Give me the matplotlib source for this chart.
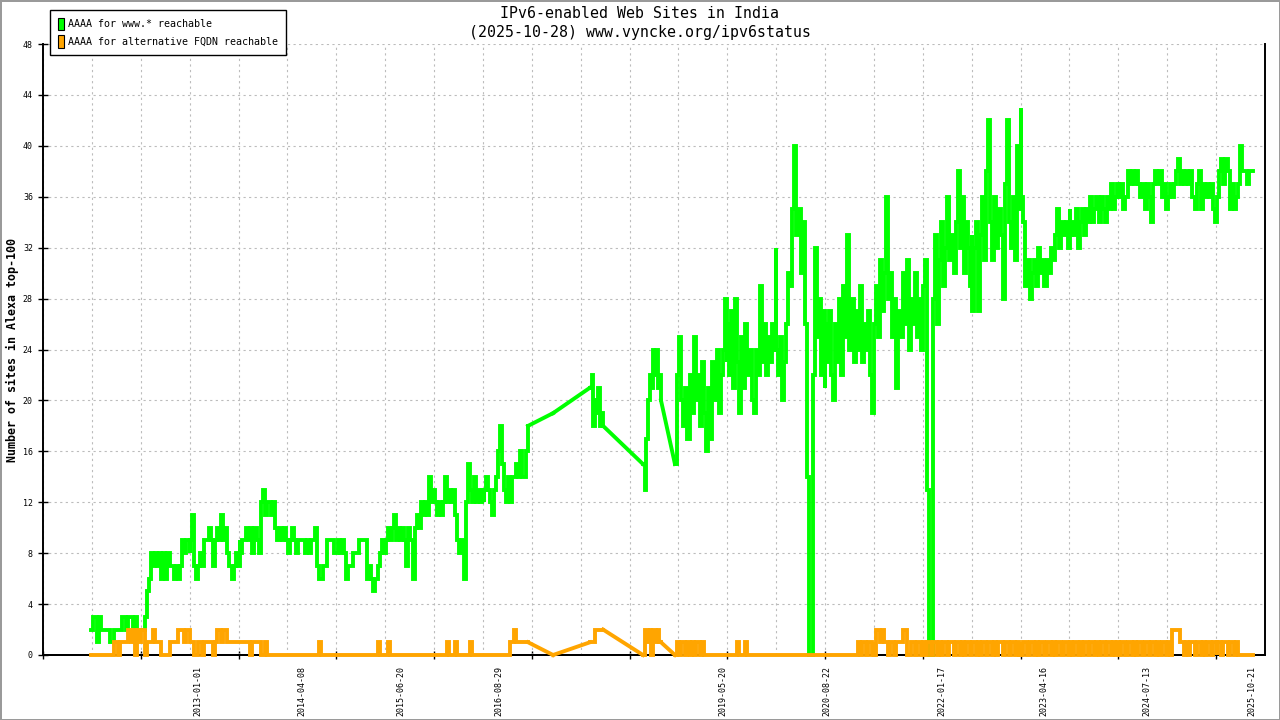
import matplotlib
matplotlib.use('Agg')
import matplotlib.pyplot as plt
import matplotlib.dates as mdates
from matplotlib.patches import Patch
from matplotlib.ticker import FixedLocator, NullFormatter
import numpy as np
import pandas as pd

# --------------------------------------------------------------------------------------------------
# data
# --------------------------------------------------------------------------------------------------

# dense measuring periods, cut into chunks; values in a chunk are evenly spread between its edges
seg_a_edges = ['2011-09-14', '2012-04-23', '2012-11-26', '2013-07-06', '2014-02-13',
               '2014-09-14', '2015-04-15', '2015-11-19', '2016-06-23', '2017-01-05']
seg_mid_edges = ['2017-04-26', '2017-04-26']
seg_b_edges = ['2017-10-07', '2017-12-04']
seg_c_edges = ['2018-05-30', '2018-08-18']
seg_d_edges = ['2018-10-19', '2019-06-07', '2020-01-11', '2020-08-15', '2021-03-20',
               '2021-10-24', '2022-05-29', '2023-01-02', '2023-08-07', '2024-03-12',
               '2024-10-15', '2025-05-21', '2025-10-28']

# AAAA for www.* reachable
www_a1 = [2, 3, 3, 1, 3, 2, 2, 2, 2, 1, 1, 2, 2, 2, 2, 3, 3, 2, 3, 3, 2, 3, 2, 2, 2]
www_a2 = [2, 2, 3, 5, 6, 8, 7, 8, 7, 8, 6, 8, 6, 8, 7, 7, 6, 7, 6, 7, 9, 8, 9, 9, 8]
www_a3 = [9, 11, 7, 6, 7, 8, 7, 9, 9, 10, 9, 7, 9, 10, 9, 11, 9, 10, 8, 7, 6, 7, 8, 7, 9]
www_a4 = [8, 9, 9, 10, 9, 10, 8, 10, 9, 8, 12, 13, 11, 12, 12, 11, 12, 10, 9, 10, 9, 10, 9, 8, 9]
www_a5 = [9, 10, 9, 8, 9, 9, 9, 8, 9, 8, 9, 9, 10, 7, 6, 6, 7, 7, 9, 9, 9, 8, 8, 9]
www_a6 = [9, 8, 9, 8, 6, 7, 7, 8, 8, 8, 9, 9, 9, 9, 6, 7, 6, 5, 6, 7, 8, 9, 8, 9]
www_a7 = [9, 10, 9, 10, 11, 9, 10, 9, 10, 9, 7, 10, 9, 6, 10, 11, 10, 12, 11, 12, 11, 14, 12, 13, 12]
www_a8 = [12, 11, 12, 11, 12, 14, 12, 13, 12, 13, 11, 9, 8, 9, 6, 12, 15, 13, 12, 14, 12, 13, 12, 13, 12]
www_a9 = [13, 14, 13, 12, 11, 13, 14, 16, 18, 15, 13, 12, 14, 12, 14, 14, 15, 14, 16, 14, 14, 16, 18]
www_mid = [19]
www_b = [21, 22, 18, 20, 19, 21, 18, 19, 18]
www_c = [15, 13, 17, 20, 22, 21, 24, 22, 24, 21, 22, 20]
www_d1 = [15, 22, 25, 20, 18, 21, 17, 22, 19, 25, 20, 22, 18, 23, 19, 16, 21, 17, 23, 20, 24, 19, 22, 24, 28, 23]
www_d2 = [26, 22, 27, 21, 28, 23, 19, 25, 21, 26, 22, 24, 20, 19, 24, 22, 29, 23, 26, 22, 25, 23, 26, 24, 32]
www_d3 = [24, 22, 25, 20, 23, 26, 30, 29, 35, 40, 33, 35, 30, 34, 26, 14, 0, 0, 22, 32, 25, 28, 22, 27, 21]
www_d4 = [26, 23, 27, 22, 20, 26, 23, 28, 22, 29, 25, 33, 24, 28, 23, 27, 24, 29, 23, 26, 24, 27, 22, 19, 25]
www_d5 = [26, 29, 25, 31, 27, 30, 36, 28, 30, 25, 28, 21, 27, 25, 30, 26, 31, 24, 28, 26, 30, 25, 28, 24, 29]
www_d6 = [29, 31, 13, 0, 0, 28, 33, 26, 31, 34, 29, 32, 36, 31, 33, 30, 34, 38, 32, 36, 30, 34, 32, 29, 33]
www_d7 = [27, 32, 34, 27, 33, 36, 31, 38, 42, 34, 31, 36, 32, 35, 33, 28, 37, 42, 34, 32, 36, 31, 40, 35, 43]
www_d8 = [36, 34, 29, 31, 28, 30, 31, 29, 32, 30, 31, 29, 31, 30, 32, 31, 33, 35, 32, 34, 33, 34, 32, 35]
www_d9 = [33, 34, 33, 35, 32, 34, 35, 33, 35, 34, 36, 34, 35, 36, 34, 36, 35, 34, 36, 35, 37, 35, 36, 37, 36]
www_d10 = [36, 37, 35, 36, 38, 37, 38, 37, 38, 37, 36, 37, 35, 37, 36, 34, 37, 38, 37, 38, 36, 37, 35, 36]
www_d11 = [36, 37, 36, 37, 38, 39, 37, 38, 37, 38, 37, 38, 36, 35, 37, 38, 35, 37, 36, 37, 36, 37, 35, 34, 35]
www_d12 = [36, 38, 39, 37, 39, 38, 35, 37, 35, 36, 37, 40, 38, 38, 37, 38, 38, 38]

# AAAA for alternative FQDN reachable
alt_a1 = [0, 0, 0, 0, 0, 0, 0, 0, 0, 0, 0, 1, 1, 0, 1, 1, 1, 1, 2, 1, 2, 0, 2, 1, 2]
alt_a2 = [2, 2, 0, 1, 1, 1, 2, 1, 1, 1, 0, 0, 0, 0, 1, 1, 1, 1, 2, 2, 2, 1, 2, 2, 2]
alt_a3 = [1, 1, 0, 0, 1, 1, 0, 1, 1, 1, 1, 0, 1, 2, 2, 1, 2, 2, 1, 1, 1, 1, 1, 1, 1]
alt_a4 = [1, 1, 1, 1, 1, 0, 1, 1, 1, 1, 0, 0, 1, 0, 0, 0, 0, 0, 0, 0, 0, 0, 0, 0, 0]
alt_a5 = [0, 0, 0, 0, 0, 0, 0, 0, 0, 0, 0, 0, 0, 0, 1, 0, 0, 0, 0, 0, 0, 0, 0, 0]
alt_a6 = [0, 0, 0, 0, 0, 0, 0, 0, 0, 0, 0, 0, 0, 0, 0, 0, 0, 0, 0, 1, 0, 0, 0, 0]
alt_a7 = [0, 1, 0, 0, 0, 0, 0, 0, 0, 0, 0, 0, 0, 0, 0, 0, 0, 0, 0, 0, 0, 0, 0, 0, 0]
alt_a8 = [0, 0, 0, 0, 0, 0, 1, 0, 0, 0, 1, 0, 0, 0, 0, 0, 0, 1, 0, 0, 0, 0, 0, 0, 0]
alt_a9 = [0, 0, 0, 0, 0, 0, 0, 0, 0, 0, 0, 0, 0, 1, 1, 2, 1, 1, 1, 1, 1, 1, 1]
alt_mid = [0]
alt_b = [1, 1, 1, 2, 2, 2, 2, 2, 2]
alt_c = [0, 2, 2, 1, 2, 0, 2, 2, 1, 2, 1, 1]
alt_d1 = [0, 1, 0, 1, 1, 0, 1, 0, 1, 0, 1, 1, 0, 1, 0, 0, 0, 0, 0, 0, 0, 0, 0, 0, 0, 0]
alt_d2 = [0, 0, 0, 0, 0, 1, 0, 0, 0, 1, 0, 0, 0, 0, 0, 0, 0, 0, 0, 0, 0, 0, 0, 0, 0]
alt_d3 = [0, 0, 0, 0, 0, 0, 0, 0, 0, 0, 0, 0, 0, 0, 0, 0, 0, 0, 0, 0, 0, 0, 0, 0, 0]
alt_d4 = [0, 0, 0, 0, 0, 0, 0, 0, 0, 0, 0, 0, 0, 0, 0, 0, 1, 0, 1, 1, 0, 1, 1, 0, 1]
alt_d5 = [0, 2, 2, 1, 2, 1, 1, 0, 1, 1, 0, 1, 1, 1, 2, 2, 0, 0, 1, 1, 0, 1, 1, 0, 1]
alt_d6 = [1, 0, 1, 1, 0, 1, 1, 0, 1, 0, 1, 1, 0, 1, 1, 0, 1, 1, 0, 1, 0, 1, 1, 0, 1]
alt_d7 = [1, 1, 0, 1, 0, 1, 1, 0, 1, 1, 0, 1, 0, 1, 1, 0, 1, 1, 0, 1, 1, 0, 1, 0, 1]
alt_d8 = [0, 1, 1, 0, 1, 1, 0, 1, 0, 1, 1, 0, 1, 1, 0, 1, 0, 1, 1, 0, 1, 1, 0, 1]
alt_d9 = [1, 0, 1, 1, 0, 1, 0, 1, 1, 0, 1, 1, 0, 1, 0, 1, 1, 0, 1, 1, 0, 1, 0, 1, 1]
alt_d10 = [0, 1, 1, 0, 1, 1, 0, 1, 0, 1, 1, 0, 1, 1, 0, 1, 1, 0, 1, 0, 1, 1, 0, 1]
alt_d11 = [1, 0, 2, 2, 2, 2, 1, 1, 0, 1, 0, 1, 1, 0, 1, 1, 0, 1, 0, 1, 1, 0, 1, 1, 0]
alt_d12 = [1, 1, 0, 1, 1, 0, 1, 1, 0, 1, 0, 0, 0, 0, 0, 0, 0, 0]

xtick_dates = ['2013-01-01', '2014-04-08', '2015-06-20', '2016-08-29', '2019-05-20',
               '2020-08-22', '2022-01-17', '2023-04-16', '2024-07-13', '2025-10-21']
x_range = ['2011-02-13', '2025-12-20']
y_ticks = [0, 4, 8, 12, 16, 20, 24, 28, 32, 36, 40, 44, 48]

title_lines = ['IPv6-enabled Web Sites in India', '(2025-10-28) www.vyncke.org/ipv6status']
series_names = ['AAAA for www.* reachable', 'AAAA for alternative FQDN reachable']
y_title = 'Number of sites in Alexa top-100'

GREEN = '#00ff00'
ORANGE = '#ffa500'
GRID = '#bcbcbc'
MONO = 'DejaVu Sans Mono'


def build(edges, chunks):
    dates, vals = [], []
    for i, chunk in enumerate(chunks):
        d = pd.date_range(edges[i], edges[i + 1], periods=len(chunk))
        dates.extend(mdates.date2num(d.to_pydatetime()))
        vals.extend(chunk)
    return dates, vals


www_segments = [
    build(seg_a_edges, [www_a1, www_a2, www_a3, www_a4, www_a5, www_a6, www_a7, www_a8, www_a9]),
    build(seg_mid_edges, [www_mid]),
    build(seg_b_edges, [www_b]),
    build(seg_c_edges, [www_c]),
    build(seg_d_edges, [www_d1, www_d2, www_d3, www_d4, www_d5, www_d6, www_d7, www_d8,
                        www_d9, www_d10, www_d11, www_d12]),
]
alt_segments = [
    build(seg_a_edges, [alt_a1, alt_a2, alt_a3, alt_a4, alt_a5, alt_a6, alt_a7, alt_a8, alt_a9]),
    build(seg_mid_edges, [alt_mid]),
    build(seg_b_edges, [alt_b]),
    build(seg_c_edges, [alt_c]),
    build(seg_d_edges, [alt_d1, alt_d2, alt_d3, alt_d4, alt_d5, alt_d6, alt_d7, alt_d8,
                        alt_d9, alt_d10, alt_d11, alt_d12]),
]

# --------------------------------------------------------------------------------------------------
# figure
# --------------------------------------------------------------------------------------------------

fig = plt.figure(figsize=(12.8, 7.2), dpi=100)
fig.patch.set_facecolor('white')
fig.patch.set_edgecolor('#9a9a9a')
fig.patch.set_linewidth(2)
ax = fig.add_axes([43 / 1280, 65 / 720, 1222 / 1280, 611 / 720])


def draw(segments, color):
    for k, (d, v) in enumerate(segments):
        ax.plot(d, v, drawstyle='steps-post', color=color, lw=2.8, zorder=3,
                clip_on=False, solid_joinstyle='miter')
        if k + 1 < len(segments):
            nd, nv = segments[k + 1]
            ax.plot([d[-1], nd[0]], [v[-1], nv[0]], color=color, lw=2.8, zorder=3,
                    clip_on=False)


draw(www_segments, GREEN)
draw(alt_segments, ORANGE)

xmin, xmax = mdates.date2num(pd.to_datetime(x_range).to_pydatetime())
ax.set_xlim(xmin, xmax)
ax.set_ylim(0, 48)

for side in ('left', 'right', 'bottom'):
    ax.spines[side].set_linewidth(1.4)
    ax.spines[side].set_color('black')
ax.spines['top'].set_visible(False)

# y axis
ax.set_yticks(y_ticks)
ax.set_yticklabels([str(t) for t in y_ticks], fontsize=6, family=MONO)
ax.tick_params(axis='y', direction='inout', length=6.5, width=1, pad=4)
ax.yaxis.grid(True, color=GRID, linestyle=(0, (2, 3)), linewidth=0.8)

# x axis: date labels, grid on 25 equal divisions
grid_x = np.linspace(xmin, xmax, 26)
ax.xaxis.set_major_locator(FixedLocator(mdates.date2num(pd.to_datetime(xtick_dates).to_pydatetime())))
ax.set_xticklabels(xtick_dates, rotation=90, fontsize=6, family=MONO)
ax.xaxis.set_minor_locator(FixedLocator(grid_x))
ax.tick_params(axis='x', which='major', length=0, pad=8)
ax.tick_params(axis='x', which='minor', length=0)
ax.xaxis.grid(True, which='minor', color=GRID, linestyle=(0, (2, 3)), linewidth=0.8)
ax.xaxis.grid(False, which='major')

sec = ax.secondary_xaxis('bottom')
sec.xaxis.set_major_locator(FixedLocator(grid_x[::2]))
sec.xaxis.set_major_formatter(NullFormatter())
sec.xaxis.set_minor_locator(FixedLocator([]))
sec.tick_params(direction='inout', length=6, width=1)
sec.spines['bottom'].set_linewidth(1.4)

ax.set_axisbelow(True)

# titles
fig.text(0.5, 1 - 13 / 720, title_lines[0], ha='center', va='center', fontsize=10.7, family=MONO)
fig.text(0.5, 1 - 32 / 720, title_lines[1], ha='center', va='center', fontsize=10.7, family=MONO)
fig.text(12 / 1280, 1 - 350 / 720, y_title, rotation=90, ha='center', va='center',
         fontsize=8.4, family=MONO, weight='bold')

# legend
handles = [Patch(facecolor=GREEN, edgecolor='black', linewidth=0.8),
           Patch(facecolor=ORANGE, edgecolor='black', linewidth=0.8)]
leg = fig.legend(handles, series_names, loc='upper left', bbox_to_anchor=(50 / 1280, 1 - 10 / 720),
                 borderaxespad=0, fancybox=False, framealpha=1, edgecolor='black',
                 prop={'family': MONO, 'size': 7.2}, handlelength=0.6, handleheight=1.6,
                 handletextpad=0.45, labelspacing=0.45, borderpad=0.75)
leg.get_frame().set_linewidth(1.0)

fig.savefig('out.png', dpi=100, facecolor=fig.get_facecolor(), edgecolor=fig.get_edgecolor())
